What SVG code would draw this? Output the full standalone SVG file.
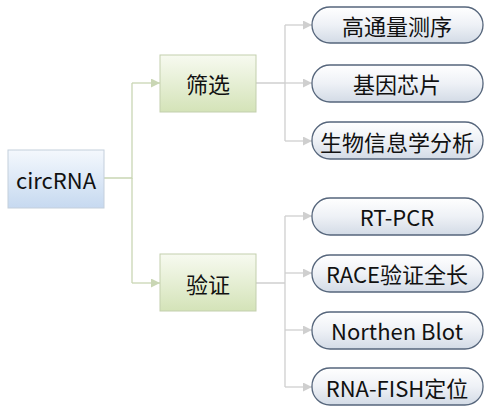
<svg xmlns="http://www.w3.org/2000/svg" width="489" height="414" viewBox="0 0 489 414">
<defs>
<linearGradient id="gBlue" x1="0" y1="0" x2="0" y2="1"><stop offset="0" stop-color="#f4f8fd"/><stop offset="1" stop-color="#c6d9f0"/></linearGradient>
<linearGradient id="gGreen" x1="0" y1="0" x2="0" y2="1"><stop offset="0" stop-color="#f7faf0"/><stop offset="1" stop-color="#d4e3b8"/></linearGradient>
<linearGradient id="gPill" x1="0" y1="0" x2="0" y2="1"><stop offset="0" stop-color="#ffffff"/><stop offset="0.5" stop-color="#eef1f6"/><stop offset="1" stop-color="#d3dbe6"/></linearGradient>
<marker id="aG" viewBox="0 0 10 10" refX="10" refY="5" markerWidth="9" markerHeight="9" markerUnits="userSpaceOnUse" orient="auto"><path d="M0,0 L10,5 L0,10 z" fill="#c9d6b4"/></marker>
<marker id="aR" viewBox="0 0 10 10" refX="10" refY="5" markerWidth="9" markerHeight="9" markerUnits="userSpaceOnUse" orient="auto"><path d="M0,0 L10,5 L0,10 z" fill="#cfcfcf"/></marker>
</defs>
<style>
.t{font-family:"Noto Sans CJK SC","Noto Sans",sans-serif;font-size:22px;fill:#111;text-anchor:middle;dominant-baseline:central}
.lg{fill:none;stroke:#c9d6b4;stroke-width:1.3}
.lr{fill:none;stroke:#cfcfcf;stroke-width:1.3}
.pill{fill:url(#gPill);stroke:#56667c;stroke-width:1.3}
</style>
<rect width="489" height="414" fill="#ffffff"/>
<g id="connectors">
<path class="lg" d="M104,178 H132 V83"/>
<path class="lg" d="M132,178 V283"/>
<path class="lg" d="M132,83 H160" marker-end="url(#aG)"/>
<path class="lg" d="M132,283 H160" marker-end="url(#aG)"/>
<path class="lr" d="M256,83 H285 M285,25 V141 M256,283 H285 M285,216 V387"/>
<path class="lr" d="M285,25 H312" marker-end="url(#aR)"/>
<path class="lr" d="M285,83 H312" marker-end="url(#aR)"/>
<path class="lr" d="M285,141 H312" marker-end="url(#aR)"/>
<path class="lr" d="M285,216 H312" marker-end="url(#aR)"/>
<path class="lr" d="M285,273 H312" marker-end="url(#aR)"/>
<path class="lr" d="M285,330 H312" marker-end="url(#aR)"/>
<path class="lr" d="M285,387 H312" marker-end="url(#aR)"/>
</g>
<g id="circRNA"><rect x="8" y="150" width="96" height="58" fill="url(#gBlue)" stroke="#c4cfdc" stroke-width="1"/><text class="t" x="56" y="179" font-size="23">circRNA</text></g>
<g id="shaixuan"><rect x="160" y="55" width="96" height="57" fill="url(#gGreen)" stroke="#c3cfae" stroke-width="1"/><text class="t" x="208" y="83">筛选</text></g>
<g id="yanzheng"><rect x="160" y="254" width="96" height="57" fill="url(#gGreen)" stroke="#c3cfae" stroke-width="1"/><text class="t" x="208" y="283">验证</text></g>
<g id="n1"><rect class="pill" x="312" y="7" width="171" height="36" rx="18"/><text class="t" x="397" y="25">高通量测序</text></g>
<g id="n2"><rect class="pill" x="312" y="65" width="171" height="37" rx="18"/><text class="t" x="397" y="83">基因芯片</text></g>
<g id="n3"><rect class="pill" x="312" y="122" width="171" height="37" rx="18"/><text class="t" x="397" y="141">生物信息学分析</text></g>
<g id="n4"><rect class="pill" x="312" y="198" width="171" height="37" rx="18"/><text class="t" x="397" y="216">RT-PCR</text></g>
<g id="n5"><rect class="pill" x="312" y="255" width="171" height="37" rx="18"/><text class="t" x="397" y="273">RACE验证全长</text></g>
<g id="n6"><rect class="pill" x="312" y="312" width="171" height="37" rx="18"/><text class="t" x="397" y="330">Northen Blot</text></g>
<g id="n7"><rect class="pill" x="312" y="368" width="171" height="37" rx="18"/><text class="t" x="397" y="387">RNA-FISH定位</text></g>
</svg>
